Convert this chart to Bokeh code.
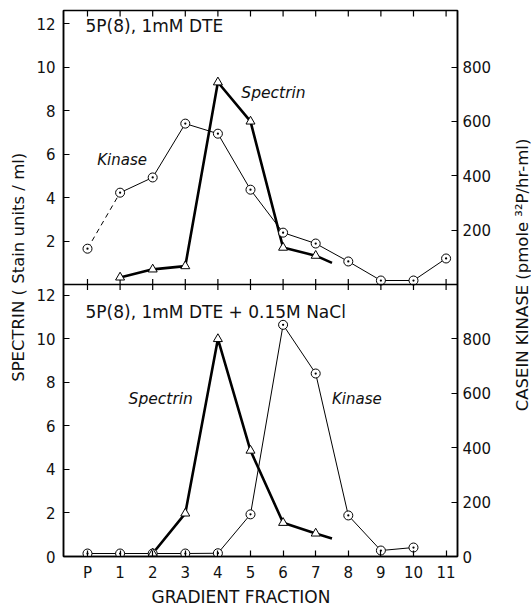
import math
from bokeh.plotting import figure
from bokeh.layouts import row
from bokeh.models import (Range1d, LinearAxis, FixedTicker, CustomJSTickFormatter,
                          Span, Label, Title)
from bokeh.embed import file_html
from bokeh.resources import INLINE

# ---------------- data ----------------
fraction_ticks = [0, 1, 2, 3, 4, 5, 6, 7, 8, 9, 10, 11]
fraction_labels = ["P", "1", "2", "3", "4", "5", "6", "7", "8", "9", "10", "11"]

# Top panel: 5P(8), 1mM DTE
top_kinase_frac = [0, 1, 2, 3, 4, 5, 6, 7, 8, 9, 10, 11]
top_kinase = [132, 338, 394, 592, 555, 349, 191, 151, 85, 15, 15, 96]   # pmole 32P/hr-ml
top_spectrin_frac = [1, 2, 3, 4, 5, 6, 7, 7.5]
top_spectrin = [0.33, 0.70, 0.85, 9.3, 7.5, 1.7, 1.33, 1.0]             # stain units / ml

# Bottom panel: 5P(8), 1mM DTE + 0.15M NaCl
bot_kinase_frac = [0, 1, 2, 3, 4, 5, 6, 7, 8, 9, 10]
bot_kinase = [11, 11, 11, 11, 12, 155, 852, 673, 151, 22, 33]
bot_spectrin_frac = [2, 3, 4, 5, 6, 7, 7.5]
bot_spectrin = [0.14, 1.98, 10.0, 4.87, 1.55, 1.06, 0.83]

spectrin_ticks = [0, 2, 4, 6, 8, 10, 12]
kinase_ticks = [0, 200, 400, 600, 800]

# ---------------- layout constants ----------------
FONT = "DejaVu Sans"
INK = "#111111"
PANEL = 12.5          # spectrin units per panel (offset of top panel)
YMAX = 25.1
KFAC = 80.0           # kinase units per spectrin unit on the shared scale

p = figure(width=509, height=606,
           x_range=Range1d(-0.736, 11.35), y_range=Range1d(0, YMAX),
           output_backend="svg", toolbar_location=None,
           min_border_left=63, min_border_right=52,
           min_border_top=10, min_border_bottom=50)
p.extra_y_ranges = {
    "stop": Range1d(-PANEL, YMAX - PANEL),
    "kbot": Range1d(0, YMAX * KFAC),
    "ktop": Range1d(-PANEL * KFAC, (YMAX - PANEL) * KFAC),
}
p.grid.visible = False
p.outline_line_color = "black"
p.outline_line_width = 1.5
p.background_fill_color = "white"
p.border_fill_color = "white"

# bottom x axis
xa = p.xaxis[0]
xa.ticker = FixedTicker(ticks=fraction_ticks)
xa.major_label_overrides = {t: l for t, l in zip(fraction_ticks, fraction_labels)}
xa.major_tick_in = 6
xa.major_tick_out = 0
xa.minor_tick_line_color = None
xa.major_label_standoff = 7
xa.major_label_text_font = FONT
xa.major_label_text_font_size = "15px"
xa.major_label_text_color = INK
xa.axis_line_width = 1.5
xa.major_tick_line_width = 1.2

p.add_layout(Title(text="GRADIENT  FRACTION", align="left", offset=88,
                   text_font=FONT, text_font_size="17px", text_font_style="normal",
                   text_color=INK, standoff=0), "below")

# left axis: spectrin, both panels
ya = p.yaxis[0]
ya.ticker = FixedTicker(ticks=spectrin_ticks + [PANEL + t for t in spectrin_ticks[1:]])
ya.formatter = CustomJSTickFormatter(
    args=dict(off=PANEL),
    code="return (tick > off - 0.25 ? tick - off : tick).toFixed(0);")
ya.major_tick_in = 6
ya.major_tick_out = 0
ya.minor_tick_line_color = None
ya.major_label_standoff = 8
ya.major_label_text_font = FONT
ya.major_label_text_font_size = "15px"
ya.major_label_text_color = INK
ya.axis_line_width = 1.5
ya.major_tick_line_width = 1.2

p.add_layout(Title(text="SPECTRIN  ( Stain units / ml)", align="right", offset=137,
                   text_font=FONT, text_font_size="16.5px", text_font_style="normal",
                   text_color=INK, standoff=12), "left")

# right axis: casein kinase, both panels
ra = LinearAxis(y_range_name="kbot",
                ticker=FixedTicker(ticks=kinase_ticks + [PANEL * KFAC + t for t in kinase_ticks[1:]]),
                formatter=CustomJSTickFormatter(
                    args=dict(off=PANEL * KFAC),
                    code="return (tick > off - 20 ? tick - off : tick).toFixed(0);"))
ra.major_tick_in = 6
ra.major_tick_out = 0
ra.minor_tick_line_color = None
ra.major_label_standoff = 5
ra.major_label_text_font = FONT
ra.major_label_text_font_size = "15px"
ra.major_label_text_color = INK
ra.axis_line_width = 1.5
ra.major_tick_line_width = 1.2
p.add_layout(ra, "right")

# separator between panels with crossing ticks, and ticks along the top edge
p.add_layout(Span(location=0, dimension="width", y_range_name="stop",
                  line_color="black", line_width=1.5))
p.scatter(x=fraction_ticks, y=[0] * len(fraction_ticks), y_range_name="stop",
          marker="dash", angle=math.pi / 2, size=11, line_color="black", line_width=1.2)
p.scatter(x=fraction_ticks, y=[YMAX] * len(fraction_ticks),
          marker="dash", angle=math.pi / 2, size=12, line_color="black", line_width=1.2)

# ---------------- top panel ----------------
p.line(top_kinase_frac[:2], top_kinase[:2], y_range_name="ktop",
       line_color="black", line_width=1, line_dash="5 4")
p.line(top_kinase_frac[1:], top_kinase[1:], y_range_name="ktop",
       line_color="black", line_width=1)
p.line(top_spectrin_frac, top_spectrin, y_range_name="stop",
       line_color="black", line_width=2.6)
p.scatter(top_kinase_frac, top_kinase, y_range_name="ktop", marker="circle_dot",
          size=9, fill_color="white", line_color="black", line_width=1)
p.scatter(top_spectrin_frac[:-1], top_spectrin[:-1], y_range_name="stop", marker="triangle",
          size=9, fill_color="white", line_color="black", line_width=1)

# ---------------- bottom panel ----------------
p.line(bot_kinase_frac, bot_kinase, y_range_name="kbot", line_color="black", line_width=1)
p.line(bot_spectrin_frac, bot_spectrin, line_color="black", line_width=2.6)
p.scatter(bot_kinase_frac, bot_kinase, y_range_name="kbot", marker="circle_dot",
          size=9, fill_color="white", line_color="black", line_width=1)
p.scatter(bot_spectrin_frac[:-1], bot_spectrin[:-1], marker="triangle",
          size=9, fill_color="white", line_color="black", line_width=1)

# ---------------- annotations ----------------
def lab(x, y, text, rng="default", italic=False, size="15px"):
    p.add_layout(Label(x=x, y=y, y_range_name=rng, text=text, text_font=FONT,
                       text_font_size=size, text_baseline="middle", text_color=INK,
                       text_font_style="italic" if italic else "normal"))

lab(-0.06, 11.9, "5P(8),  1mM  DTE", rng="stop", size="17px")
lab(-0.06, 11.25, "5P(8),  1mM  DTE  +  0.15M  NaCl", size="17px")
lab(0.3, 5.75, "Kinase", rng="stop", italic=True, size="15px")
lab(4.72, 8.8, "Spectrin", rng="stop", italic=True, size="15.5px")
lab(1.26, 7.26, "Spectrin", italic=True, size="15.5px")
lab(7.5, 7.26, "Kinase", italic=True, size="15px")

# ---------------- right-hand axis title (narrow strip) ----------------
q = figure(width=22, height=606, x_range=Range1d(0, 1), y_range=Range1d(0, 1),
           x_axis_type=None, y_axis_type=None, output_backend="svg",
           toolbar_location=None, min_border=0)
q.grid.visible = False
q.outline_line_color = None
q.background_fill_color = "white"
q.border_fill_color = "white"
q.add_layout(Label(x=0.6, y=0.53, text="CASEIN  KINASE   (pmole ³²P/hr-ml)",
                   angle=math.pi / 2, text_align="center", text_baseline="middle",
                   text_font=FONT, text_font_size="16.5px", text_color=INK))

layout = row(p, q, spacing=0)
open("out.html", "w").write(file_html(layout, INLINE))
